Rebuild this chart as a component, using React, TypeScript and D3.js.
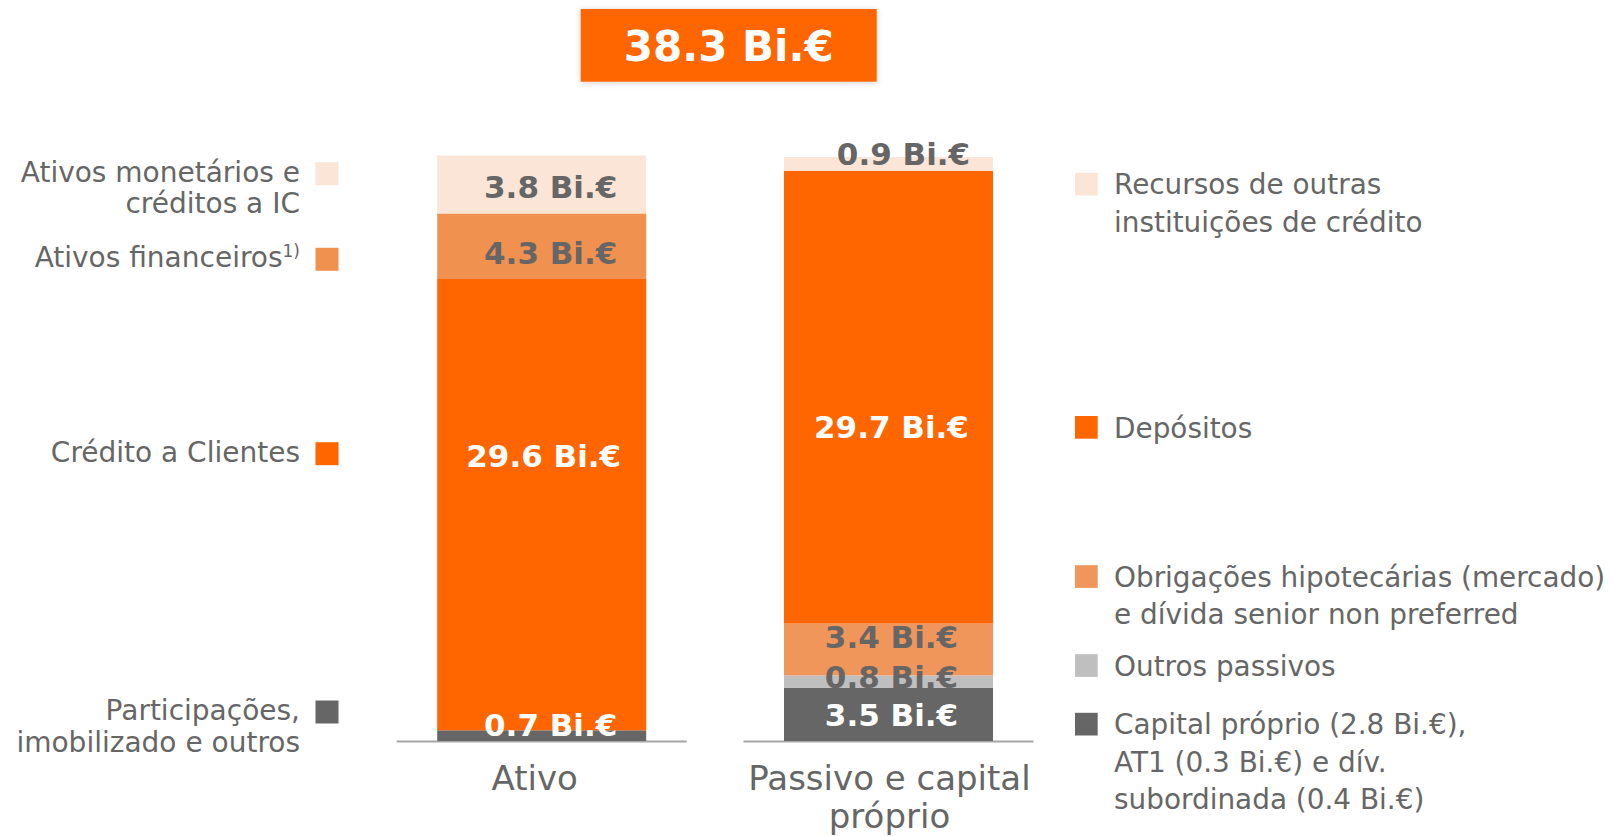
import React from "react";
import * as d3 from "d3";

// ---------- data ----------
const categories = ["Ativo", "Passivo e capital próprio"];
const totalLabel = "38.3 Bi.€";

const ativoKeys = ["part", "credito", "financeiros", "monetarios"];
const ativoValues = [0.7, 29.6, 4.3, 3.8];

const passivoKeys = ["capital", "outros", "obrig", "depositos", "recursos"];
const passivoValues = [3.5, 0.8, 3.4, 29.7, 0.9];

const ativoLegend = [
  { key: "monetarios", lines: ["Ativos monetários e", "créditos a IC"] },
  { key: "financeiros", lines: ["Ativos financeiros"], sup: "1)" },
  { key: "credito", lines: ["Crédito a Clientes"] },
  { key: "part", lines: ["Participações,", "imobilizado e outros"] },
];
const passivoLegend = [
  { key: "recursos", lines: ["Recursos de outras", "instituições de crédito"] },
  { key: "depositos", lines: ["Depósitos"] },
  { key: "obrig", lines: ["Obrigações hipotecárias (mercado)", "e dívida senior non preferred"] },
  { key: "outros", lines: ["Outros passivos"] },
  { key: "capital", lines: ["Capital próprio (2.8 Bi.€),", "AT1 (0.3 Bi.€) e dív.", "subordinada (0.4 Bi.€)"] },
];

// ---------- styles ----------
const COLORS: Record<string, string> = {
  monetarios: "#FBE5D7",
  financeiros: "#F0914F",
  credito: "#FF6600",
  part: "#666666",
  recursos: "#FBE5D7",
  depositos: "#FF6600",
  obrig: "#F1965A",
  outros: "#BFBFBF",
  capital: "#666666",
};
const WHITE_LABEL = new Set(["credito", "part", "depositos", "capital"]);
// label offsets (dx, dy from segment centre) – layout only
const LABEL_OFFSET: Record<string, [number, number]> = {
  monetarios: [9, 14],
  financeiros: [9, 18],
  credito: [2, -37.5],
  part: [9, 0],
  recursos: [15, 1],
  depositos: [3, 41],
  obrig: [3, -2],
  outros: [3, 6],
  capital: [3, 12],
};
// legend y positions (baseline of first line) – layout only
const LEFT_LEGEND_Y = [181.7, 267.3, 461.7, 720];
const RIGHT_LEGEND_Y = [194.3, 437.5, 586.7, 675.7, 734.3];

const FONT = "'DejaVu Sans', Verdana, sans-serif";
const GRAY = "#666666";

export default function App() {
  const W = 1611;
  const H = 836;
  const baseline = 741;
  const barW = 209;

  const y = d3.scaleLinear().domain([0, 38.4]).range([baseline, 155.5]);
  const x = d3.scalePoint<string>().domain(categories).range([541.7, 888.5]);

  const buildStack = (keys: string[], values: number[]) => {
    const row: Record<string, number> = {};
    keys.forEach((k, i) => (row[k] = values[i]));
    const s = d3.stack<Record<string, number>>().keys(keys)([row]);
    return s.map((layer, i) => ({ key: keys[i], y0: layer[0][0], y1: layer[0][1], v: values[i] }));
  };

  const stacks = [
    { cat: categories[0], segs: buildStack(ativoKeys, ativoValues) },
    { cat: categories[1], segs: buildStack(passivoKeys, passivoValues) },
  ];

  return (
    <svg
      width={W}
      height={H}
      style={{ position: "absolute", left: 0, top: 0, background: "#fff" }}
      fontFamily={FONT}
    >
      <defs>
        <filter id="shadow" x="-10%" y="-20%" width="120%" height="150%">
          <feDropShadow dx="0" dy="1" stdDeviation="3" floodColor="#000" floodOpacity="0.18" />
        </filter>
      </defs>

      {/* title */}
      <rect x={580.7} y={9} width={296} height={72.7} fill="#FF6600" filter="url(#shadow)" />
      <text x={728.7} y={61} textAnchor="middle" fill="#fff" fontWeight="bold" fontSize={42}>
        {totalLabel}
      </text>

      {/* axis lines */}
      {stacks.map((s) => {
        const cx = x(s.cat)!;
        return (
          <line
            key={"ax" + s.cat}
            x1={cx - 145}
            x2={cx + 145}
            y1={baseline + 0.5}
            y2={baseline + 0.5}
            stroke="#A6A6A6"
            strokeWidth={2}
          />
        );
      })}

      {/* bars */}
      {stacks.map((s) => {
        const cx = x(s.cat)!;
        return (
          <g key={s.cat}>
            {s.segs.map((seg) => (
              <rect
                key={seg.key}
                x={cx - barW / 2}
                y={y(seg.y1)}
                width={barW}
                height={y(seg.y0) - y(seg.y1)}
                fill={COLORS[seg.key]}
              />
            ))}
          </g>
        );
      })}

      {/* value labels */}
      {stacks.map((s) => {
        const cx = x(s.cat)!;
        return (
          <g key={"lbl" + s.cat}>
            {s.segs.map((seg) => {
              const [dx, dy] = LABEL_OFFSET[seg.key];
              const cy = (y(seg.y0) + y(seg.y1)) / 2;
              return (
                <text
                  key={seg.key}
                  x={cx + dx}
                  y={cy + dy}
                  textAnchor="middle"
                  fontWeight="bold"
                  fontSize={31}
                  fill={WHITE_LABEL.has(seg.key) ? "#fff" : GRAY}
                >
                  {`${seg.v.toFixed(1)} Bi.€`}
                </text>
              );
            })}
          </g>
        );
      })}

      {/* category labels */}
      <text x={x(categories[0])! - 7} y={790} textAnchor="middle" fontSize={34} fill={GRAY}>
        {categories[0]}
      </text>
      <text x={x(categories[1])! + 1} y={790} textAnchor="middle" fontSize={34} fill={GRAY}>
        <tspan x={x(categories[1])! + 1}>Passivo e capital</tspan>
        <tspan x={x(categories[1])! + 1} dy={37.5}>
          próprio
        </tspan>
      </text>

      {/* left legend */}
      {ativoLegend.map((item, i) => {
        const by = LEFT_LEGEND_Y[i];
        return (
          <g key={item.key}>
            <rect x={315.5} y={by - 19.5} width={23} height={23} fill={COLORS[item.key]} />
            <text textAnchor="end" fontSize={28} fill={GRAY}>
              {item.lines.map((ln, j) => (
                <tspan key={j} x={300} y={by + j * 31.6}>
                  {ln}
                  {item.sup && j === 0 ? (
                    <tspan fontSize={17} dy={-10}>
                      {item.sup}
                    </tspan>
                  ) : null}
                </tspan>
              ))}
            </text>
          </g>
        );
      })}

      {/* right legend */}
      {passivoLegend.map((item, i) => {
        const by = RIGHT_LEGEND_Y[i];
        return (
          <g key={item.key}>
            <rect x={1075} y={by - 21.5} width={22.7} height={22.7} fill={COLORS[item.key]} />
            <text fontSize={27.9} fill={GRAY}>
              {item.lines.map((ln, j) => (
                <tspan key={j} x={1114} y={by + j * 37.5}>
                  {ln}
                </tspan>
              ))}
            </text>
          </g>
        );
      })}
    </svg>
  );
}
